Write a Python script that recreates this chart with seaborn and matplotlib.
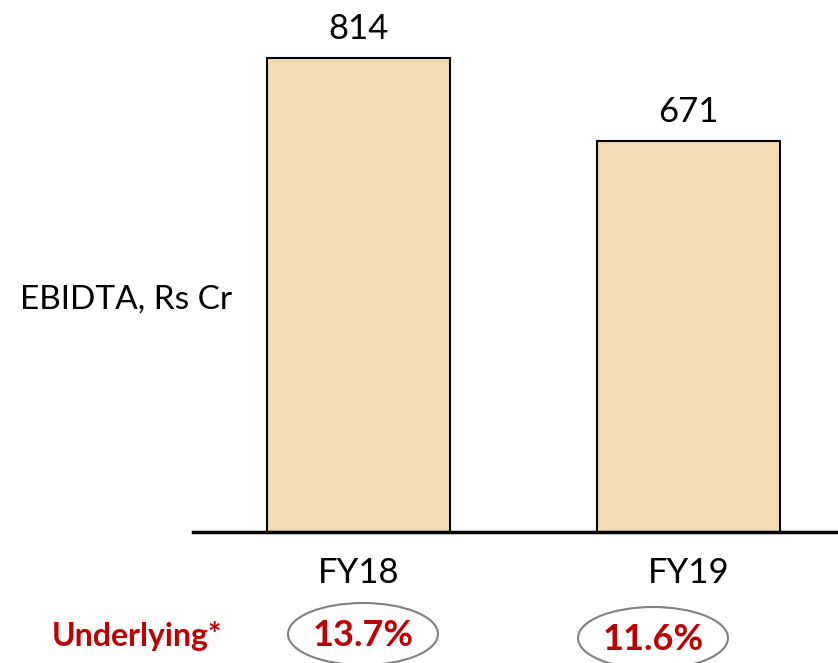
import matplotlib
matplotlib.use("Agg")
import matplotlib.pyplot as plt
from matplotlib.patches import Ellipse
import seaborn as sns
import pandas as pd

# Data
years = ["FY18", "FY19"]
ebitda = [814, 671]
margin_labels = ["13.7%", "11.6%"]

sns.set_theme(style="white")
plt.rcParams["font.family"] = ["Lato", "DejaVu Sans"]

W, H = 838, 663
fig = plt.figure(figsize=(W / 100, H / 100), dpi=100)
ax = fig.add_axes([193 / W, (H - 532) / H, (W - 193) / W, 532 / H])

df = pd.DataFrame({"year": years, "ebitda": ebitda})
sns.barplot(data=df, x="year", y="ebitda", order=years, color="#F1DBB5",
            saturation=1, width=0.555, edgecolor="black", linewidth=1.5, ax=ax)

ax.set_xlim(-0.5015, 1.453)
ax.set_ylim(0, 913.6)
ax.set_xlabel("")
ax.set_ylabel("")
ax.set_yticks([])
for side in ["top", "right", "left"]:
    ax.spines[side].set_visible(False)
ax.spines["bottom"].set_color("black")
ax.spines["bottom"].set_linewidth(2.5)
ax.tick_params(axis="x", length=0, pad=18, labelsize=25, labelcolor="black")

# Value labels above bars
for i, v in enumerate(ebitda):
    ax.text(i, v + 22, f"{v}", ha="center", va="bottom", fontsize=25, color="black")

# Left-hand series label
fig.text(20 / W, 1 - 300 / H, "EBIDTA, Rs Cr", ha="left", va="center",
         fontsize=24, color="black")

# Underlying margin row
red = "#C00000"
fig.text(137 / W, 1 - 636 / H, "Underlying*", ha="center", va="center",
         fontsize=23, fontweight="bold", color=red)

ellipse_centers = [(363, 634), (653, 638)]
for (cx, cy), lab in zip(ellipse_centers, margin_labels):
    e = Ellipse((cx / W, 1 - cy / H), 150 / W, 62 / H, transform=fig.transFigure,
                facecolor="none", edgecolor="#808080", linewidth=1.5)
    fig.add_artist(e)
    fig.text(cx / W, 1 - (cy + 2) / H, lab, ha="center", va="center",
             fontsize=26, fontweight="bold", color=red)

fig.savefig("out.png", dpi=100)
